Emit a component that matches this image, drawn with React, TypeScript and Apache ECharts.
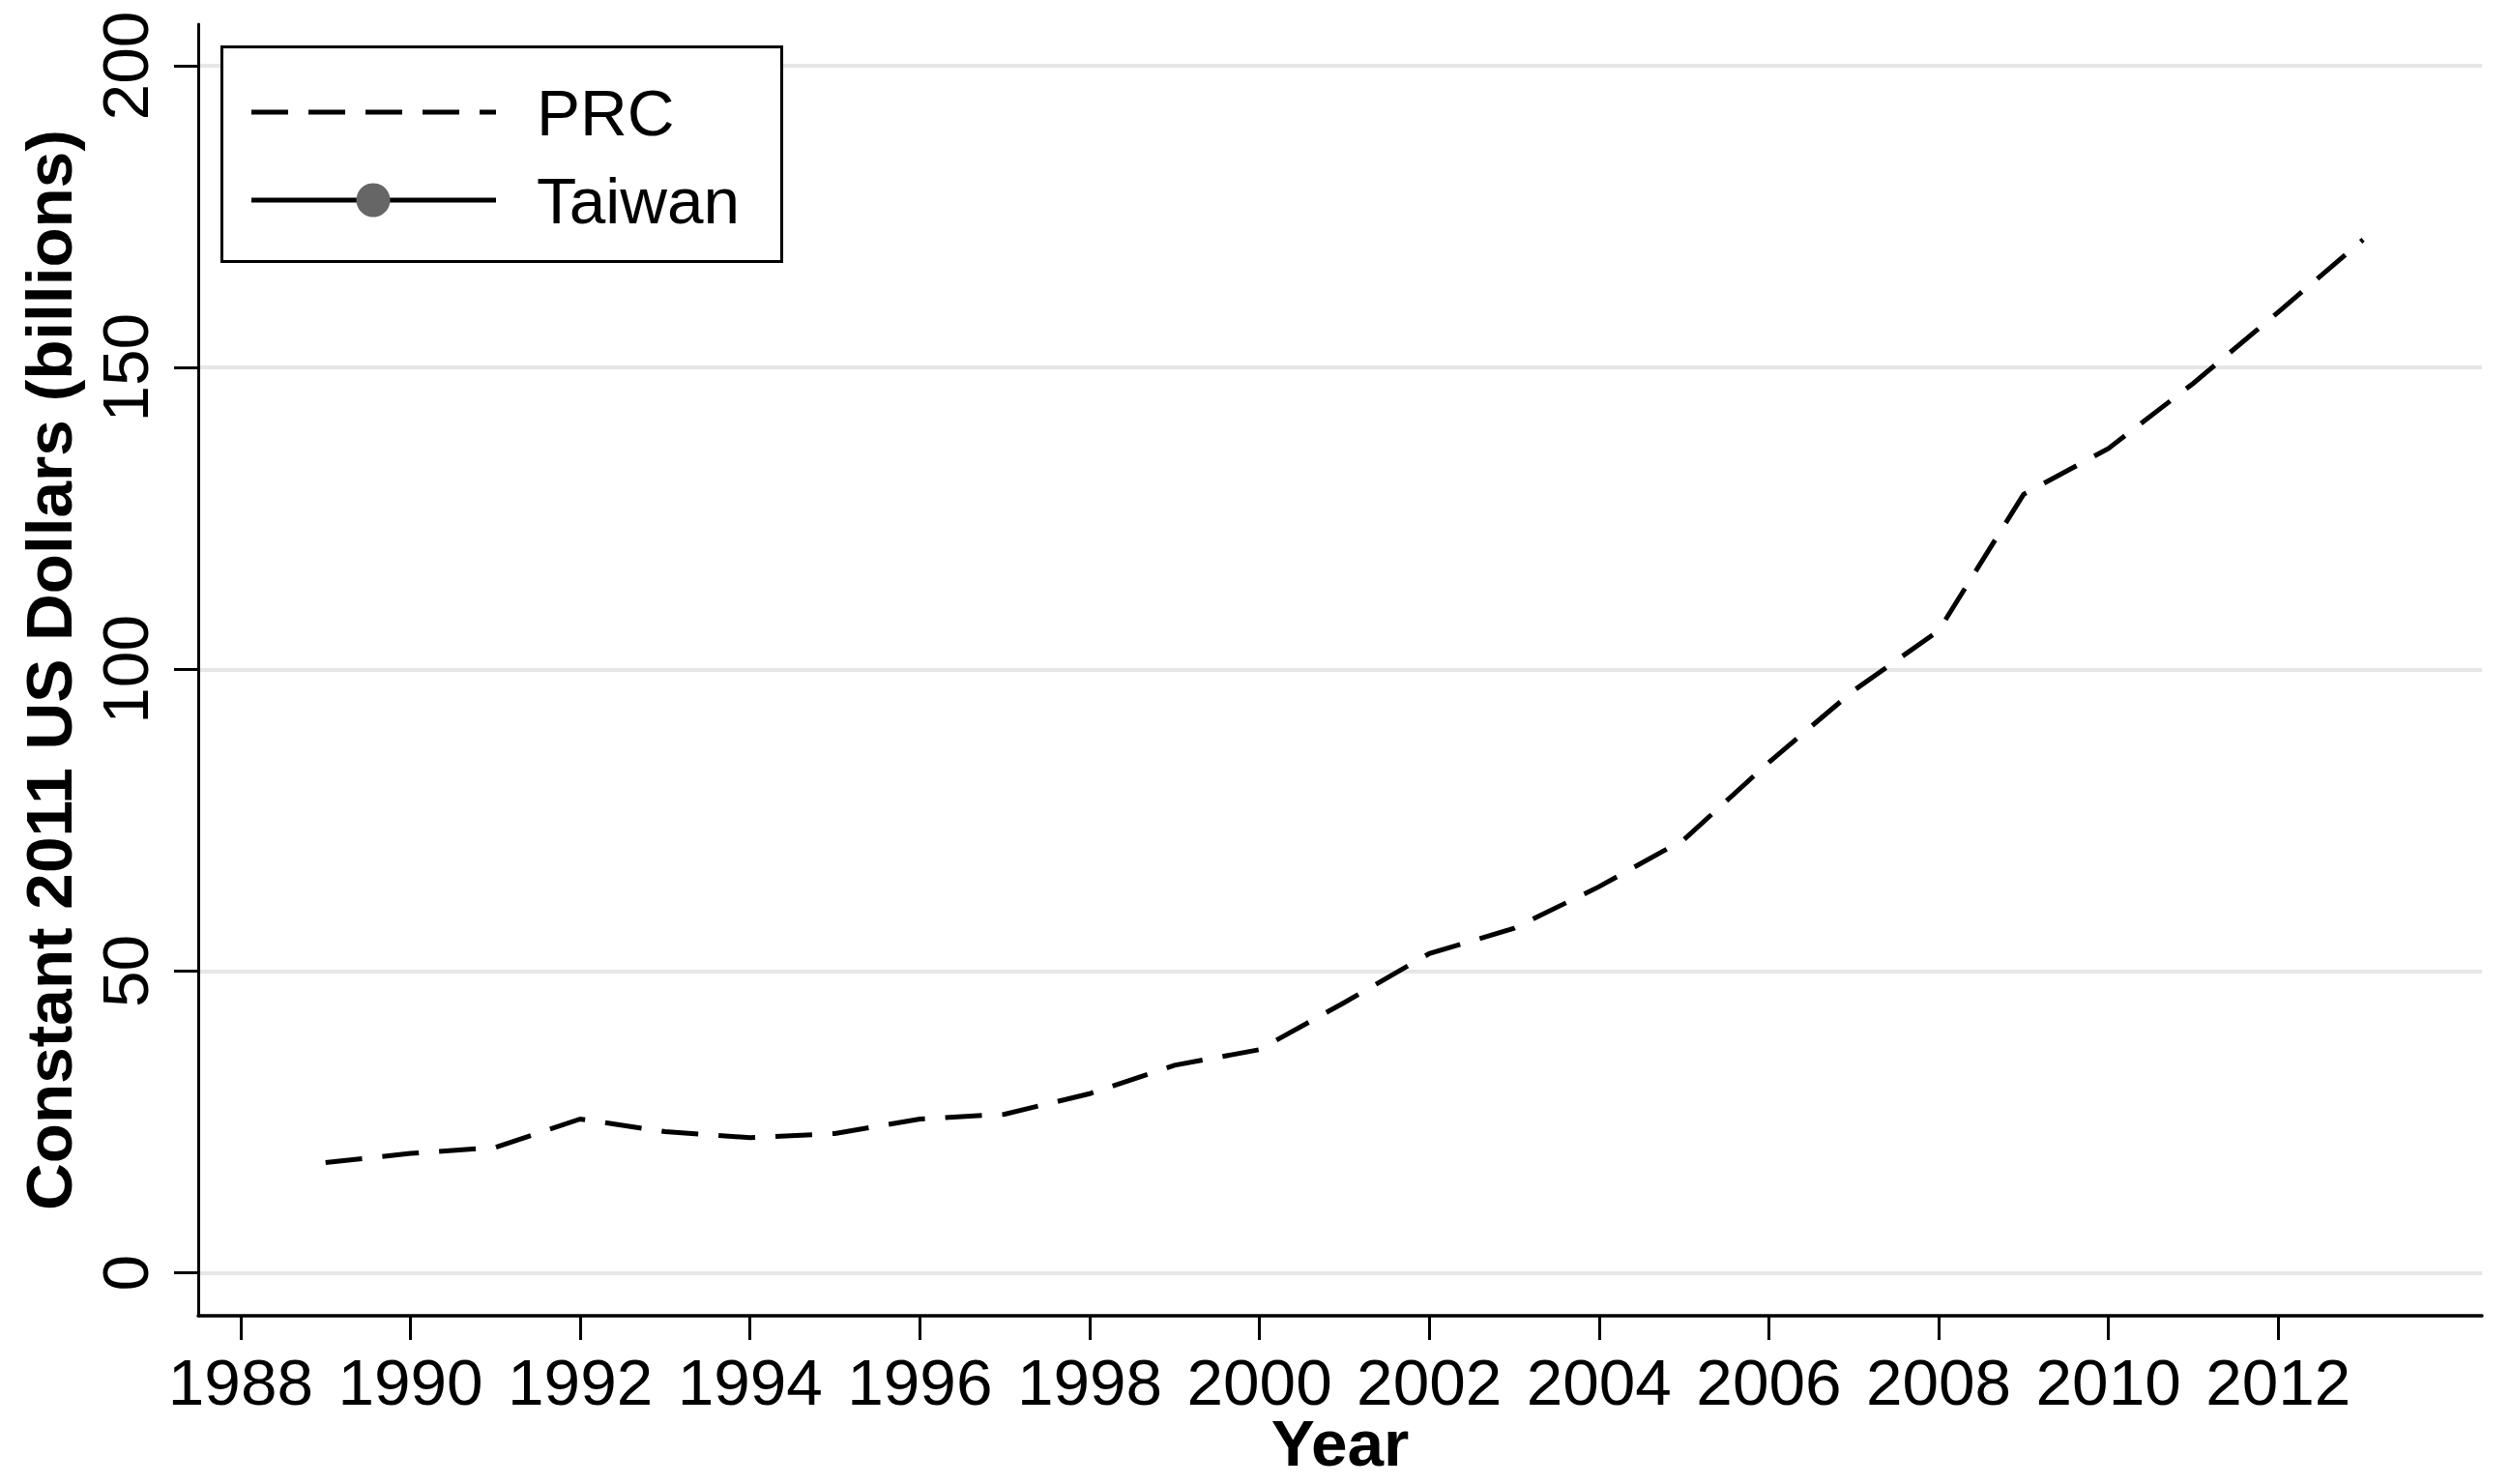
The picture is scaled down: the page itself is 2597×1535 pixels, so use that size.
import React, { useEffect, useRef } from "react";
import * as echarts from "echarts";

const years = [1989, 1990, 1991, 1992, 1993, 1994, 1995, 1996, 1997, 1998, 1999, 2000, 2001, 2002, 2003, 2004, 2005, 2006, 2007, 2008, 2009, 2010, 2011, 2012, 2013];
const prcValues = [18.3, 19.8, 20.8, 25.5, 23.4, 22.4, 23.1, 25.5, 26.3, 29.7, 34.4, 37.0, 44.8, 52.9, 57.1, 64.0, 71.8, 84.6, 96.5, 106.4, 129.0, 136.6, 147.4, 159.2, 171.2];
const taiwanValues: number[] = [];
const xTicks = [1988, 1990, 1992, 1994, 1996, 1998, 2000, 2002, 2004, 2006, 2008, 2010, 2012];
const yTicks = [0, 50, 100, 150, 200];
const seriesNames = ["PRC", "Taiwan"];
const xTitle = "Year";
const yTitle = "Constant 2011 US Dollars (billions)";

const FONT = "'Liberation Sans', Arial, Helvetica, sans-serif";
const FS = 67.5;

export default function App() {
  const ref = useRef<HTMLDivElement>(null);
  useEffect(() => {
    document.body.style.margin = "0";
    document.body.style.overflow = "hidden";
    const chart = echarts.init(ref.current!, null, { renderer: "svg" });
    const prcData = years.map((y, i) => [y, prcValues[i]]);
    const twData = taiwanValues.map((v, i) => [years[i], v]);
    chart.setOption({
      animation: false,
      backgroundColor: "#ffffff",
      textStyle: { fontFamily: FONT },
      grid: { left: 205, right: 30, top: 25, bottom: 174, containLabel: false, outerBoundsMode: "none" },
      xAxis: {
        type: "value",
        min: 1987.5,
        max: 2014.4,
        name: xTitle,
        nameLocation: "middle",
        nameGap: 103,
        nameMoveOverlap: false,
        nameTextStyle: { fontFamily: FONT, fontSize: FS, fontWeight: "bold", color: "#000", lineHeight: 56 },
        axisLine: { show: true, onZero: false, lineStyle: { color: "#000", width: 3.5 } },
        axisTick: { show: true, length: 25, lineStyle: { color: "#000", width: 3 }, customValues: xTicks },
        axisLabel: { fontFamily: FONT, fontSize: FS, color: "#000", margin: 34, customValues: xTicks, formatter: (v: number) => String(v) },
        splitLine: { show: false },
      },
      yAxis: {
        type: "value",
        min: -7.1,
        max: 206.9,
        name: yTitle,
        nameLocation: "middle",
        nameRotate: 90,
        nameGap: 121,
        nameTextStyle: { fontFamily: FONT, fontSize: FS, fontWeight: "bold", color: "#000" },
        axisLine: { show: true, onZero: false, lineStyle: { color: "#000", width: 3 } },
        axisTick: { show: true, length: 25, lineStyle: { color: "#000", width: 3 }, customValues: yTicks },
        axisLabel: { fontFamily: FONT, fontSize: FS, color: "#000", rotate: 90, margin: 42, customValues: yTicks, formatter: (v: number) => String(v) },
        splitLine: { show: true, lineStyle: { color: "#e6e6e6", width: 4 } },
      },
      series: [
        {
          name: seriesNames[0],
          type: "line",
          data: prcData,
          showSymbol: false,
          symbol: "none",
          lineStyle: { color: "#000", width: 5, type: [38, 21], cap: "butt", join: "miter" },
          z: 3,
        },
        {
          name: seriesNames[1],
          type: "line",
          data: twData,
          symbol: "circle",
          symbolSize: 35,
          itemStyle: { color: "#666666" },
          lineStyle: { color: "#000", width: 5 },
          z: 3,
        },
      ],
      graphic: [
        {
          type: "group",
          left: 228,
          top: 47,
          z: 100,
          children: [
            { type: "rect", z: 100, shape: { x: 1.5, y: 1.5, width: 579, height: 222 }, style: { fill: "#fff", stroke: "#000", lineWidth: 3 } },
            { type: "line", z: 101, shape: { x1: 32, y1: 69, x2: 285, y2: 69 }, style: { stroke: "#000", lineWidth: 5, lineDash: [38, 21] } },
            { type: "text", z: 101, x: 327, y: 69, style: { text: seriesNames[0], font: `${FS}px ${FONT}`, fill: "#000", textVerticalAlign: "middle", verticalAlign: "middle" } },
            { type: "line", z: 101, shape: { x1: 32, y1: 160, x2: 285, y2: 160 }, style: { stroke: "#000", lineWidth: 5 } },
            { type: "circle", z: 102, shape: { cx: 158, cy: 160, r: 17.5 }, style: { fill: "#666666" } },
            { type: "text", z: 101, x: 327, y: 160, style: { text: seriesNames[1], font: `${FS}px ${FONT}`, fill: "#000", textVerticalAlign: "middle", verticalAlign: "middle" } },
          ],
        },
      ],
    });
    return () => chart.dispose();
  }, []);
  return <div ref={ref} style={{ width: 2597, height: 1535 }} />;
}
